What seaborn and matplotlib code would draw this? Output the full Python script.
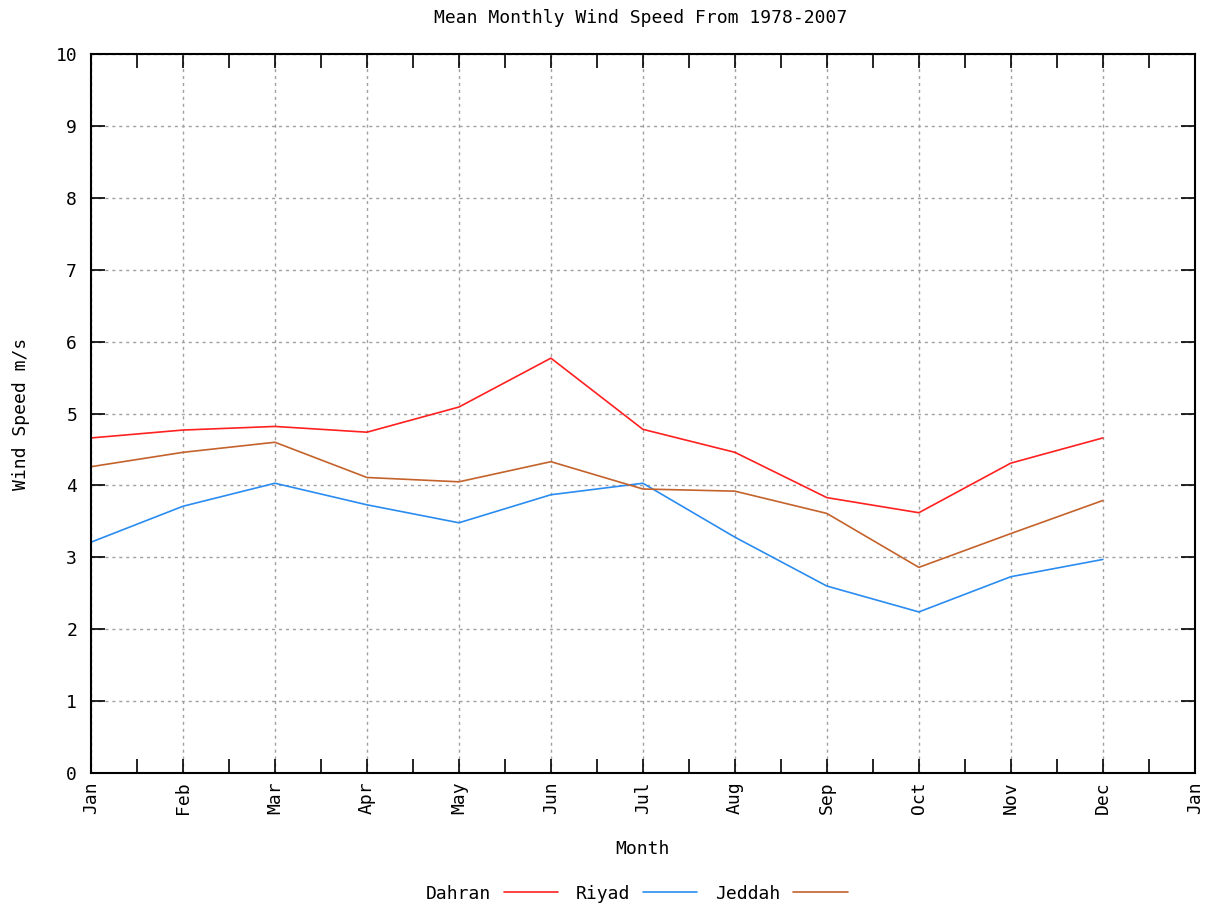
import matplotlib
matplotlib.use("Agg")
import matplotlib.pyplot as plt
import numpy as np
import pandas as pd
import seaborn as sns

# Mean monthly wind speed (m/s), 1978-2007
months = ["Jan", "Feb", "Mar", "Apr", "May", "Jun",
          "Jul", "Aug", "Sep", "Oct", "Nov", "Dec"]
tick_labels = months + ["Jan"]
dahran = [4.66, 4.77, 4.82, 4.74, 5.09, 5.77, 4.78, 4.46, 3.83, 3.62, 4.31, 4.66]
riyad = [3.21, 3.71, 4.03, 3.73, 3.48, 3.87, 4.03, 3.28, 2.60, 2.24, 2.73, 2.97]
jeddah = [4.26, 4.46, 4.60, 4.11, 4.05, 4.33, 3.95, 3.92, 3.61, 2.86, 3.33, 3.79]
stations = ["Dahran", "Riyad", "Jeddah"]
colors = {"Dahran": "#ff2020", "Riyad": "#2a8cf0", "Jeddah": "#c4622c"}

frames = []
for name, vals in zip(stations, [dahran, riyad, jeddah]):
    frames.append(pd.DataFrame({"pos": np.arange(len(months)),
                                "speed": vals, "station": name}))
df = pd.concat(frames, ignore_index=True)

sns.set_style("white")
plt.rcParams["font.family"] = ["DejaVu Sans Mono"]
plt.rcParams["text.color"] = "black"
plt.rcParams["axes.labelcolor"] = "black"
plt.rcParams["xtick.color"] = "black"
plt.rcParams["ytick.color"] = "black"

FS = 13

fig = plt.figure(figsize=(12.13, 9.11), dpi=100)
ax = fig.add_axes([0.075, 0.1515, 0.910, 0.7892])

sns.lineplot(data=df, x="pos", y="speed", hue="station", hue_order=stations,
             palette=colors, linewidth=1.2, ax=ax, legend=False)

ax.set_xlim(0, 12)
ax.set_ylim(0, 10)
ax.set_xticks(range(13))
ax.set_xticklabels(tick_labels, rotation=90, fontsize=FS)
ax.set_xticks(np.arange(0.5, 12, 1.0), minor=True)
ax.set_yticks(range(11))
ax.set_yticklabels([str(i) for i in range(11)], fontsize=FS)

ax.tick_params(axis="both", which="both", direction="in", top=True, right=True,
               bottom=True, left=True, color="black", width=1.2)
ax.tick_params(axis="x", which="major", length=10, pad=6)
ax.tick_params(axis="x", which="minor", length=10)
ax.tick_params(axis="y", which="major", length=10, pad=10)

ax.grid(True, which="major", color="#a0a0a0", linestyle=(0, (2.2, 2.8)),
        linewidth=1.0)
ax.set_axisbelow(True)
for sp in ax.spines.values():
    sp.set_color("black")
    sp.set_linewidth(1.5)

ax.set_xlabel("Month", fontsize=FS, labelpad=19)
ax.set_ylabel("Wind Speed m/s", fontsize=FS, labelpad=18)
fig.suptitle("Mean Monthly Wind Speed From 1978-2007", x=0.528, y=0.990,
             fontsize=FS)

handles = [plt.Line2D([], [], color=colors[s], linewidth=1.2) for s in stations]
fig.legend(handles, stations, loc="center", bbox_to_anchor=(0.525, 0.019),
           ncol=3, frameon=False, markerfirst=False, fontsize=FS,
           handlelength=3.0, columnspacing=1.0, handletextpad=0.7)

fig.savefig("out.png", dpi=100)
